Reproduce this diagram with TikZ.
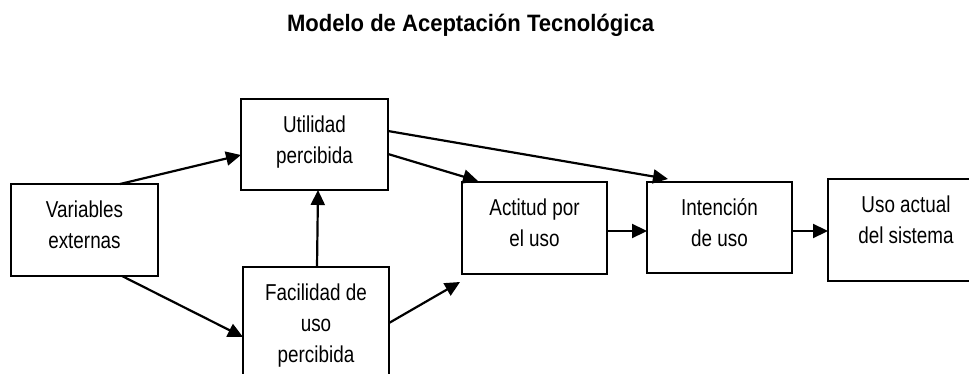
\documentclass[tikz,border=0pt]{standalone}
\usepackage{fontspec}
\setmainfont{Liberation Sans}
\newfontfamily\narrowfont[FakeStretch=0.82]{Liberation Sans}
\newfontfamily\titlefont[FakeStretch=0.93]{Liberation Sans}
\usetikzlibrary{arrows.meta}
\newcommand\bt[4]{\parbox[c][#2][t]{#1}{\centering\narrowfont\fontsize{23}{31}\selectfont\lineskiplimit=-100pt\vspace*{17pt}\rule{0pt}{16.5pt}\smash{#3}\\#4\par}}
\tikzset{
  box/.style={draw, line width=1.8pt, rectangle, inner sep=0pt, outer sep=0pt},
  arr/.style={line width=2.2pt, -{Triangle[length=15pt,width=14pt]}},
}
\begin{document}
\begin{tikzpicture}[x=1pt,y=-1pt]
\useasboundingbox (0,0) rectangle (969,374);
\clip (0,0) rectangle (969,374);
\node[anchor=base, font=\titlefont\bfseries\fontsize{23.7}{28}\selectfont] (title) at (470.5,32) {Modelo de Aceptación Tecnológica};
\node[box] (v) at (84.5,230) {\bt{147pt}{92pt}{Variables}{externas}};
\node[box] (u) at (314.5,144.5) {\bt{147pt}{91pt}{Utilidad}{percibida}};
\node[box] (f) at (316,327) {\bt{146pt}{120pt}{Facilidad de}{uso\\percibida}};
\node[box] (a) at (534.5,228) {\bt{145pt}{92pt}{Actitud por}{el uso}};
\node[box] (i) at (719.5,227.5) {\bt{145pt}{91pt}{Intención}{de uso}};
\node[box] (s) at (906,230) {\bt{156pt}{102pt}{Uso actual}{del sistema}};
\draw[arr] ([xshift=35.5pt]v.north) -- ([yshift=-10.5pt]u.west);
\draw[arr] ([xshift=37.5pt]v.south) -- ([yshift=-10pt]f.west);
\draw[arr] ([xshift=1pt]f.north) -- ([xshift=3.5pt]u.south);
\draw[arr] ([yshift=4pt]f.east) -- ([xshift=-2pt,yshift=-8pt]a.south west);
\draw[arr] ([yshift=-9.5pt]u.east) -- ([xshift=16pt,yshift=1pt]a.north west);
\draw[arr] ([yshift=13.5pt]u.east) -- ([xshift=21pt,yshift=3pt]i.north west);
\draw[arr] ([yshift=-3pt]a.east) -- ([yshift=-3.5pt]i.west);
\draw[arr] ([yshift=-3.5pt]i.east) -- ([yshift=-1pt]s.west);
\end{tikzpicture}
\end{document}
